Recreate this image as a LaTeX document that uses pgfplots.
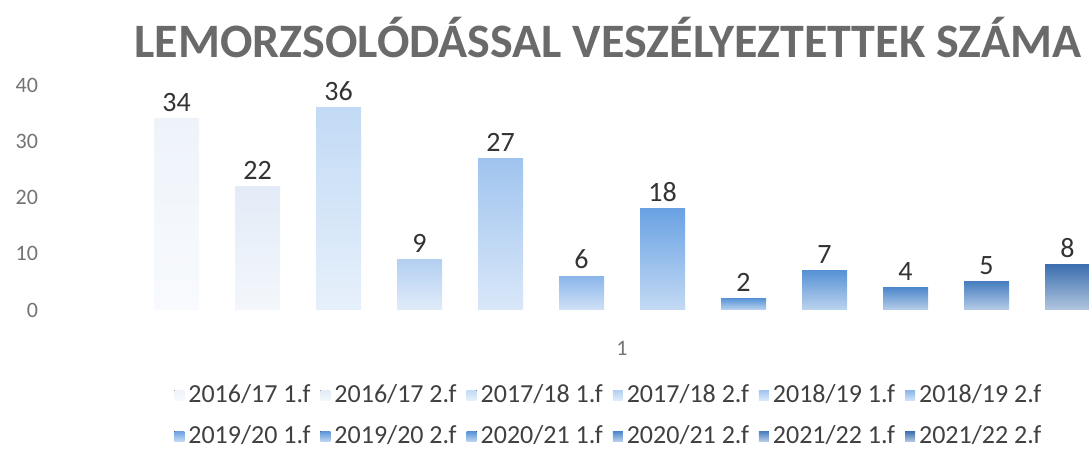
\documentclass[border=0pt]{standalone}
\usepackage{pgfplots}
\pgfplotsset{compat=1.18}
\usepackage{fontspec}
\setmainfont{Carlito}
\definecolor{c1}{HTML}{EEF3FA}
\definecolor{c2}{HTML}{E2EBF7}
\definecolor{c3}{HTML}{C2DAF5}
\definecolor{c4}{HTML}{B3CFF1}
\definecolor{c5}{HTML}{A0C4EF}
\definecolor{c6}{HTML}{8BB6EA}
\definecolor{c7}{HTML}{6AA2E3}
\definecolor{c8}{HTML}{5B95D8}
\definecolor{c9}{HTML}{5792D5}
\definecolor{c10}{HTML}{4D87CB}
\definecolor{c11}{HTML}{487FC1}
\definecolor{c12}{HTML}{3D70B0}
\definecolor{titlegray}{HTML}{6A6A6A}
\begin{document}
\begin{tikzpicture}
\useasboundingbox (0,0) rectangle (544.5pt,-229pt);
\node[font=\fontsize{24}{28}\selectfont\bfseries, text=titlegray, inner sep=0pt] at (304pt,-19pt) {LEMORZSOLÓDÁSSAL VESZÉLYEZTETTEK SZÁMA};
\begin{axis}[
  at={(22.5pt,-155pt)}, anchor=south west,
  scale only axis, width=522pt, height=112.5pt,
  xmin=45, xmax=1089, ymin=0, ymax=40,
  /pgf/number format/assume math mode=true,
  ybar=18pt, bar width=22.5pt,
  ytick={0,10,20,30,40},
  xtick={622}, xticklabels={1},
  axis line style={draw=none}, major tick length=0pt,
  tick label style={font=\fontsize{11}{13}\selectfont, text=black!55},
  x tick label style={yshift=-12pt},
  nodes near coords,
  nodes near coords style={font=\fontsize{14}{16}\selectfont, text=black!80},
  clip=false,
  legend columns=6,
  legend style={at={(0.541,-0.47)}, anchor=center, draw=none, fill=none,
    font=\fontsize{13}{15}\selectfont, text=black!75, row sep=6pt,
    /tikz/every even column/.append style={column sep=3pt}},
  legend image code/.code={\fill[#1] (0pt,-2.5pt) rectangle (5pt,2.5pt);},
]
\addplot[draw=none, top color=c1, bottom color=c1!40!white] coordinates {(622,34)};
\addplot[draw=none, top color=c2, bottom color=c2!40!white] coordinates {(622,22)};
\addplot[draw=none, top color=c3, bottom color=c3!40!white] coordinates {(622,36)};
\addplot[draw=none, top color=c4, bottom color=c4!40!white] coordinates {(622,9)};
\addplot[draw=none, top color=c5, bottom color=c5!40!white] coordinates {(622,27)};
\addplot[draw=none, top color=c6, bottom color=c6!40!white] coordinates {(622,6)};
\addplot[draw=none, top color=c7, bottom color=c7!40!white] coordinates {(622,18)};
\addplot[draw=none, top color=c8, bottom color=c8!40!white] coordinates {(622,2)};
\addplot[draw=none, top color=c9, bottom color=c9!40!white] coordinates {(622,7)};
\addplot[draw=none, top color=c10, bottom color=c10!40!white] coordinates {(622,4)};
\addplot[draw=none, top color=c11, bottom color=c11!40!white] coordinates {(622,5)};
\addplot[draw=none, top color=c12, bottom color=c12!40!white] coordinates {(622,8)};
\legend{2016/17 1.f, 2016/17 2.f, 2017/18 1.f, 2017/18 2.f, 2018/19 1.f, 2018/19 2.f,
  2019/20 1.f, 2019/20 2.f, 2020/21 1.f, 2020/21 2.f, 2021/22 1.f, 2021/22 2.f}
\end{axis}
\end{tikzpicture}
\end{document}
